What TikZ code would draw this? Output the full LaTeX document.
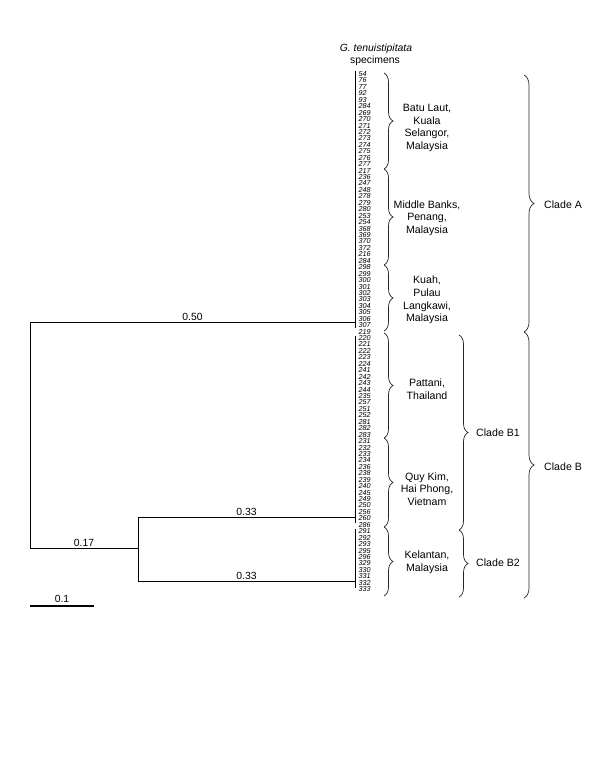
\documentclass[tikz,border=0pt]{standalone}
\usepackage{fontspec}
\setmainfont{Liberation Sans}
\usetikzlibrary{decorations.pathreplacing}
\begin{document}
\begin{tikzpicture}[x=1pt,y=-1pt,
  tree/.style={line width=0.9pt,black},
  num/.style={anchor=west,inner sep=0pt,font=\fontsize{7.2}{7.2}\selectfont\itshape},
  blabel/.style={inner sep=0pt,align=center,font=\fontsize{10.6}{12.7}\selectfont},
  clabel/.style={inner sep=0pt,anchor=west,font=\fontsize{10.6}{12.7}\selectfont},
  brlabel/.style={inner sep=1pt,anchor=south,font=\fontsize{10.4}{12}\selectfont},
  bracedraw/.style={draw=black!85,line width=0.7pt,decorate,decoration={brace,amplitude=#1}}
]
\useasboundingbox (0,0) rectangle (600,776);
% title
\node[inner sep=0pt,font=\fontsize{10.4}{12}\selectfont] (title) at (376,49) {\textit{G. tenuistipitata}};
\node[inner sep=0pt,font=\fontsize{10.4}{12}\selectfont] (title2) at (375,61) {specimens};
% specimen labels
\foreach \lab [count=\i] in {54,76,77,92,93,284,269,270,271,272,273,274,275,276,277,
  217,236,247,248,278,279,280,253,254,368,369,370,372,216,284,
  298,299,300,301,302,303,304,305,306,307,
  219,220,221,222,223,224,241,242,243,244,235,257,251,252,281,282,283,
  231,232,233,234,236,238,239,240,245,249,250,256,260,286,
  291,292,293,295,296,329,330,331,332,333}
  {\node[num] (L\i) at (358.5,{74+(\i-1)*6.44}) {\lab};}
% tree coordinates
\coordinate (aTop) at (355,71);
\coordinate (aBot) at (355,328);
\coordinate (aJ) at (355,322);
\coordinate (root) at (30,322);
\coordinate (rootB) at (30,548);
\coordinate (bJ) at (138,548);
\coordinate (b1L) at (138,517);
\coordinate (b2L) at (138,581);
\coordinate (b1J) at (355,517);
\coordinate (b2J) at (355,581);
\coordinate (b1Top) at (355,336);
\coordinate (b1Bot) at (355,523);
\coordinate (b2Top) at (355,529);
\coordinate (b2Bot) at (355,588);
\draw[tree] (aTop) -- (aBot);
\draw[tree] (b1Top) -- (b1Bot);
\draw[tree] (b2Top) -- (b2Bot);
\draw[tree] (root) -- node[brlabel] (l050) {0.50} (aJ);
\draw[tree] (root) -- (rootB);
\draw[tree] (rootB) -- node[brlabel] (l017) {0.17} (bJ);
\draw[tree] (b1L) -- (b2L);
\draw[tree] (b1L) -- node[brlabel] (l033a) {0.33} (b1J);
\draw[tree] (b2L) -- node[brlabel] (l033b) {0.33} (b2J);
% scale bar
\coordinate (sbL) at (30,606);
\coordinate (sbR) at (94,606);
\draw[line width=2.4pt] (sbL) -- node[brlabel,inner sep=2pt] (sbl) {0.1} (sbR);
% level-1 braces
\draw[bracedraw=9] (384,73) -- (384,169);
\draw[bracedraw=9] (384,169) -- (384,265);
\draw[bracedraw=9] (384,265) -- (384,331);
\draw[bracedraw=9] (384,333) -- (384,438);
\draw[bracedraw=9] (384,438) -- (384,527);
\draw[bracedraw=9] (384,527) -- (384,596);
\node[blabel] (g1) at (427,128) {Batu Laut,\\Kuala\\Selangor,\\Malaysia};
\node[blabel] (g2) at (427,218) {Middle Banks,\\Penang,\\Malaysia};
\node[blabel] (g3) at (427,300) {Kuah,\\Pulau\\Langkawi,\\Malaysia};
\node[blabel] (g4) at (427,389) {Pattani,\\Thailand};
\node[blabel] (g5) at (427,489) {Quy Kim,\\Hai Phong,\\Vietnam};
\node[blabel] (g6) at (427,562) {Kelantan,\\Malaysia};
% level-2 braces
\draw[bracedraw=9] (459,335) -- (459,530);
\draw[bracedraw=9] (459,530) -- (459,597);
\node[clabel] (cb1) at (476,433) {Clade B1};
\node[clabel] (cb2) at (476,563) {Clade B2};
% level-3 braces
\draw[bracedraw=10] (524,75) -- (524,332);
\draw[bracedraw=10] (524,332) -- (524,598);
\node[clabel] (ca) at (544,205) {Clade A};
\node[clabel] (cb) at (544,467) {Clade B};
\end{tikzpicture}
\end{document}
